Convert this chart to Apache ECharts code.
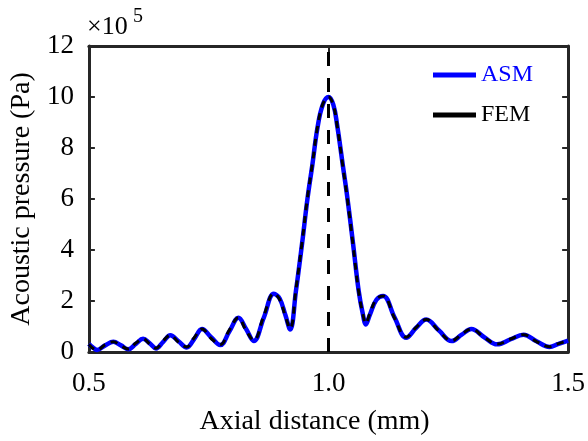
<!DOCTYPE html>
<html>
<head>
<meta charset="utf-8">
<script src="https://cdn.jsdelivr.net/npm/echarts@6/dist/echarts.min.js"></script>
<style>
  html, body { margin: 0; padding: 0; background: #ffffff; }
  #chart { width: 588px; height: 441px; }
</style>
</head>
<body>
<div id="chart"></div>
<script>
// Axial pressure profile around the focus (values in units of 1e5 Pa)
const axialMm = [
  0.500, 0.508, 0.517, 0.534, 0.551, 0.567, 0.582, 0.598, 0.613, 0.627,
  0.640, 0.655, 0.670, 0.687, 0.704, 0.720, 0.736, 0.755, 0.774, 0.793,
  0.812, 0.828, 0.844, 0.865, 0.886, 0.898, 0.910, 0.920, 0.932, 0.945,
  0.956, 0.966, 0.977, 0.988, 1.000, 1.010, 1.018, 1.030, 1.039, 1.051,
  1.063, 1.071, 1.078, 1.086, 1.100, 1.114, 1.138, 1.162, 1.183, 1.204,
  1.230, 1.257, 1.278, 1.298, 1.325, 1.352, 1.380, 1.407, 1.434, 1.461,
  1.480, 1.500
];
const asmPa = [
  0.32, 0.18, 0.08, 0.26, 0.40, 0.26, 0.11, 0.32, 0.52, 0.34,
  0.14, 0.40, 0.66, 0.42, 0.18, 0.52, 0.90, 0.58, 0.27, 0.80,
  1.34, 0.90, 0.43, 1.35, 2.28, 2.10, 1.45, 0.88, 2.39, 4.28,
  6.00, 7.30, 8.80, 9.70, 10.00, 9.70, 8.90, 7.30, 6.10, 4.28,
  2.39, 1.55, 1.08, 1.45, 2.05, 2.20, 1.35, 0.56, 0.95, 1.27,
  0.85, 0.43, 0.68, 0.90, 0.58, 0.30, 0.50, 0.68, 0.42, 0.20,
  0.32, 0.45
];
const femPa = [
  0.30, 0.15, 0.08, 0.29, 0.40, 0.24, 0.12, 0.35, 0.52, 0.31,
  0.15, 0.44, 0.66, 0.38, 0.20, 0.57, 0.90, 0.53, 0.29, 0.86,
  1.34, 0.84, 0.46, 1.42, 2.30, 2.06, 1.40, 0.92, 2.45, 4.33,
  6.05, 7.33, 8.82, 9.72, 10.00, 9.68, 8.88, 7.27, 6.05, 4.22,
  2.35, 1.55, 1.12, 1.50, 2.08, 2.20, 1.32, 0.58, 0.97, 1.27,
  0.83, 0.44, 0.70, 0.90, 0.57, 0.31, 0.51, 0.68, 0.41, 0.21,
  0.33, 0.45
];
const focusMm = [1.0];
const xTicks = [0.5, 1.0, 1.5];
const yTicks = [0, 2, 4, 6, 8, 10, 12];

const FONT = "'Liberation Serif', 'Times New Roman', serif";
const AXIS_COLOR = '#262626';

const pairs = (xs, ys) => xs.map((x, i) => [x, ys[i]]);
const focusLine = [[focusMm[0], yTicks[0]], [focusMm[0], yTicks[yTicks.length - 1]]];

const axisBase = {
  axisLine: { show: true, onZero: false, lineStyle: { color: AXIS_COLOR, width: 3 } },
  axisTick: { show: true, inside: true, length: 6, lineStyle: { color: AXIS_COLOR, width: 2 } },
  splitLine: { show: false }
};

const chart = echarts.init(document.getElementById('chart'), null, { renderer: 'canvas' });
chart.setOption({
  animation: false,
  backgroundColor: '#ffffff',
  grid: { left: 87, top: 46, right: 16, bottom: 78, containLabel: false },
  xAxis: [
    Object.assign({}, axisBase, {
      type: 'value', position: 'bottom',
      min: xTicks[0], max: xTicks[xTicks.length - 1], interval: 0.5,
      name: 'Axial distance (mm)', nameLocation: 'middle', nameGap: 56,
      nameTextStyle: { fontFamily: FONT, fontSize: 28, color: '#000', padding: [0, 28, 0, 0] },
      axisLabel: { show: true, margin: 18, fontFamily: FONT, fontSize: 27, color: '#000',
        formatter: v => v.toFixed(1) }
    }),
    Object.assign({}, axisBase, {
      type: 'value', position: 'top',
      min: xTicks[0], max: xTicks[xTicks.length - 1], interval: 0.5,
      axisLabel: { show: false }
    })
  ],
  yAxis: [
    Object.assign({}, axisBase, {
      type: 'value', position: 'left',
      min: yTicks[0], max: yTicks[yTicks.length - 1], interval: 2,
      name: 'Acoustic pressure (Pa)', nameLocation: 'middle', nameGap: 50,
      nameTextStyle: { fontFamily: FONT, fontSize: 28, color: '#000' },
      axisLabel: { show: true, margin: 15, fontFamily: FONT, fontSize: 27, color: '#000' }
    }),
    Object.assign({}, axisBase, {
      type: 'value', position: 'right',
      min: yTicks[0], max: yTicks[yTicks.length - 1], interval: 2,
      axisLabel: { show: false }
    })
  ],
  legend: {
    orient: 'vertical',
    left: 428, top: 58,
    itemWidth: 43, itemHeight: 24, itemGap: 16,
    textStyle: { fontFamily: FONT, fontSize: 24 },
    data: [
      { name: 'ASM', icon: 'path://M0,10 L40,10 L40,14.5 L0,14.5 Z', itemStyle: { color: '#0000ff' },
        textStyle: { color: '#0000ff' } },
      { name: 'FEM', icon: 'path://M0,10 L40,10 L40,14.5 L0,14.5 Z', itemStyle: { color: '#000000' },
        textStyle: { color: '#000000' } }
    ]
  },
  graphic: [
    { type: 'text', left: 87, top: 14, style: { text: '×10', font: '26px ' + FONT, fill: '#000' } },
    { type: 'text', left: 133, top: 7, style: { text: '5', font: '20px ' + FONT, fill: '#000' } }
  ],
  series: [
    {
      name: 'focus', type: 'line', data: focusLine, symbol: 'none', silent: true,
      lineStyle: { color: '#000', width: 3, type: [14, 12] }, z: 1
    },
    {
      name: 'ASM', type: 'line', data: pairs(axialMm, asmPa), symbol: 'none', smooth: 0.4,
      lineStyle: { color: '#0000ff', width: 4.5 }, itemStyle: { color: '#0000ff' }, z: 2
    },
    {
      name: 'FEM', type: 'line', data: pairs(axialMm, femPa), symbol: 'none', smooth: 0.4,
      lineStyle: { color: '#000000', width: 3, type: [7, 6] }, itemStyle: { color: '#000000' }, z: 3
    }
  ]
});
</script>
</body>
</html>
